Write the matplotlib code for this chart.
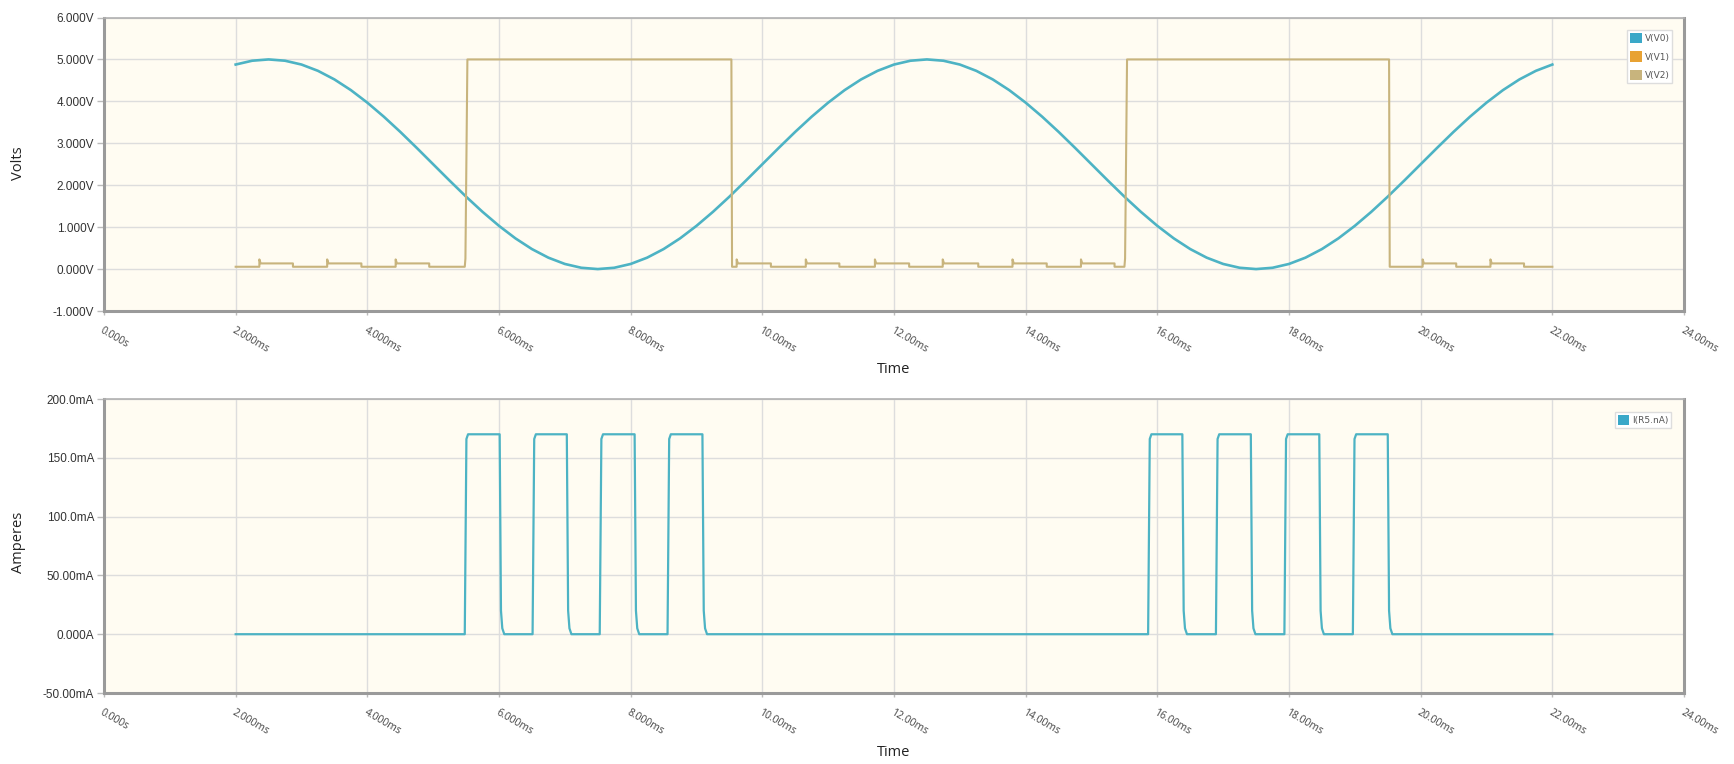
#!/usr/bin/env python3

import numpy as np
import matplotlib
matplotlib.use("Agg")
import matplotlib.pyplot as plt
from matplotlib.patches import Patch

# ---- data (times in ms) ----

# V(V0): sine trace, sampled every 0.25 ms from 2.0 to 22.0 ms
v0_t = [2.0 + 0.25 * k for k in range(81)]
v0_v = [4.878, 4.969, 5.0, 4.969, 4.878, 4.728, 4.523, 4.268, 3.969, 3.635,
        3.273, 2.891, 2.5, 2.109, 1.727, 1.365, 1.031, 0.732, 0.477, 0.272,
        0.122, 0.031, 0.0, 0.031, 0.122, 0.272, 0.477, 0.732, 1.031, 1.365,
        1.727, 2.109, 2.5, 2.891, 3.273, 3.635, 3.969, 4.268, 4.523, 4.728,
        4.878, 4.969, 5.0, 4.969, 4.878, 4.728, 4.523, 4.268, 3.969, 3.635,
        3.273, 2.891, 2.5, 2.109, 1.727, 1.365, 1.031, 0.732, 0.477, 0.272,
        0.122, 0.031, 0.0, 0.031, 0.122, 0.272, 0.477, 0.732, 1.031, 1.365,
        1.727, 2.109, 2.5, 2.891, 3.273, 3.635, 3.969, 4.268, 4.523, 4.728,
        4.878]

# V(V2): square wave with small ripple steps while low
v2_high_on = [5.48, 15.50]
v2_high_off = [9.53, 19.52]
v2_step_up = [2.36, 3.39, 4.43, 9.61, 10.66, 11.71, 12.74, 13.80, 14.84, 20.03, 21.06]
v2_step_dn = [2.87, 3.91, 4.94, 10.13, 11.17, 12.23, 13.28, 14.32, 15.35, 20.54, 21.57]
v2_low, v2_step, v2_spike, v2_high = 0.055, 0.135, 0.23, 5.0

# I(R5.nA): current pulses in mA
i_rise = [5.48, 6.51, 7.53, 8.56, 15.86, 16.89, 17.93, 18.97]
i_fall = [6.01, 7.03, 8.06, 9.09, 16.38, 17.42, 18.46, 19.50]
i_high = 170.0
t_start, t_end = 2.0, 22.0

x_ticks = [0, 2, 4, 6, 8, 10, 12, 14, 16, 18, 20, 22, 24]
x_labels = ["0.000s", "2.000ms", "4.000ms", "6.000ms", "8.000ms", "10.00ms", "12.00ms",
            "14.00ms", "16.00ms", "18.00ms", "20.00ms", "22.00ms", "24.00ms"]
v_ticks = [-1, 0, 1, 2, 3, 4, 5, 6]
v_labels = ["-1.000V", "0.000V", "1.000V", "2.000V", "3.000V", "4.000V", "5.000V", "6.000V"]
i_ticks = [-50, 0, 50, 100, 150, 200]
i_labels = ["-50.00mA", "0.000A", "50.00mA", "100.0mA", "150.0mA", "200.0mA"]


# build polylines from the event times
events = [(t, "up") for t in v2_step_up] + [(t, "dn") for t in v2_step_dn] \
    + [(t, "on") for t in v2_high_on] + [(t, "off") for t in v2_high_off]
events.sort()
v2_t, v2_v = [t_start], [v2_low]
level = v2_low
for t, kind in events:
    if kind == "up":
        v2_t += [t, t, t + 0.02]; v2_v += [level, v2_spike, v2_step]; level = v2_step
    elif kind == "dn":
        v2_t += [t, t]; v2_v += [level, v2_low]; level = v2_low
    elif kind == "on":
        v2_t += [t, t + 0.01, t + 0.04]; v2_v += [level, 0.25, v2_high]; level = v2_high
    else:
        v2_t += [t, t + 0.01]; v2_v += [level, v2_low]; level = v2_low
v2_t.append(t_end); v2_v.append(level)

i_t, i_v = [t_start], [0.0]
for r, f in zip(i_rise, i_fall):
    i_t += [r, r + 0.025, r + 0.05, f, f + 0.02, f + 0.04, f + 0.07]
    i_v += [0.0, 166.0, i_high, i_high, 20.0, 5.0, 0.0]
i_t.append(t_end); i_v.append(0.0)

# ---- style ----
teal = "#4DB3C4"
orange = "#E8A233"
tan = "#C8B47D"
bg = "#FFFCF2"
grid_c = "#DDDDDD"
spine_c = "#9A9A9A"
tick_font = dict(family="Liberation Sans", size=8.5, color="#333333")
xt_font = dict(family="Open Sans", size=7.5, color="#444444")
lab_font = dict(family="Open Sans", size=10.5, color="#222222")

W, H = 1734, 764
fig = plt.figure(figsize=(W / 100, H / 100), dpi=100)
ax1 = fig.add_axes([104 / W, 1 - 311 / H, 1580 / W, 293.5 / H])
ax2 = fig.add_axes([104 / W, 1 - 693 / H, 1580 / W, 294 / H])


def style_axes(ax, yticks, ylabels):
    ax.set_facecolor(bg)
    ax.set_xlim(0, 24)
    ax.set_ylim(yticks[0], yticks[-1])
    ax.set_xticks(x_ticks)
    ax.set_xticklabels(x_labels, rotation=-30, ha="left", va="top", rotation_mode="anchor", **xt_font)
    ax.set_yticks(yticks)
    ax.set_yticklabels(ylabels, **tick_font)
    ax.grid(True, color=grid_c, lw=1.0)
    ax.set_axisbelow(True)
    for s in ["left", "bottom", "right"]:
        ax.spines[s].set_color(spine_c)
        ax.spines[s].set_linewidth(2.2)
    ax.spines["top"].set_color("#B0B0B0")
    ax.spines["top"].set_linewidth(1.2)
    ax.tick_params(axis="y", length=5, width=1, color="#BBBBBB", pad=2)
    ax.tick_params(axis="x", length=3, width=1, color="#BBBBBB", pad=7)


leg_kw = dict(loc="upper right", fontsize=6.5, frameon=True, fancybox=False,
              edgecolor="#DDDDDD", facecolor="white", framealpha=1,
              handlelength=1.3, handleheight=1.4, handletextpad=0.3,
              labelspacing=0.9, borderpad=0.3, borderaxespad=0)

# top: voltages
style_axes(ax1, v_ticks, v_labels)
ax1.plot(v0_t, v0_v, color=teal, lw=1.9)
ax1.plot(v2_t, v2_v, color=tan, lw=1.5)
leg1 = ax1.legend(handles=[Patch(facecolor="#3AA8C8", edgecolor="none"),
                           Patch(facecolor=orange, edgecolor="none"),
                           Patch(facecolor=tan, edgecolor="none")],
                  labels=["V(V0)", "V(V1)", "V(V2)"],
                  bbox_to_anchor=(0.9925, 0.957), **leg_kw)
for txt in leg1.get_texts():
    txt.set_color("#555555")

# bottom: current
style_axes(ax2, i_ticks, i_labels)
ax2.plot(i_t, i_v, color=teal, lw=1.6)
leg2 = ax2.legend(handles=[Patch(facecolor="#3AA8C8", edgecolor="none")],
                  labels=["I(R5.nA)"],
                  bbox_to_anchor=(0.9918, 0.956), **leg_kw)
for txt in leg2.get_texts():
    txt.set_color("#555555")

# axis titles
fig.text(18 / W, 1 - 163 / H, "Volts", rotation=90, ha="center", va="center", **lab_font)
fig.text(18 / W, 1 - 542 / H, "Amperes", rotation=90, ha="center", va="center", **lab_font)
fig.text(894 / W, 1 - 370 / H, "Time", ha="center", va="center", **lab_font)
fig.text(894 / W, 1 - 752 / H, "Time", ha="center", va="center", **lab_font)

fig.savefig("out.png", dpi=100, facecolor="white")
